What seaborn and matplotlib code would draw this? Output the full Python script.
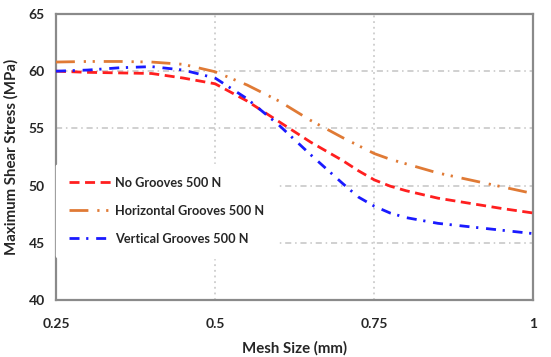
import matplotlib
matplotlib.use("Agg")
import matplotlib.pyplot as plt
import seaborn as sns
import pandas as pd

# Mesh sizes (mm) and maximum shear stress (MPa) per groove configuration
mesh_size = [0.25, 0.30, 0.35, 0.40, 0.45, 0.50, 0.55, 0.60, 0.65, 0.70,
             0.725, 0.75, 0.775, 0.80, 0.85, 0.90, 0.95, 1.00]
no_grooves = [60.0, 59.9, 59.85, 59.8, 59.4, 58.9, 57.4, 55.6, 53.8, 52.2,
              51.3, 50.5, 49.95, 49.55, 48.9, 48.45, 48.0, 47.6]
horizontal_grooves = [60.8, 60.85, 60.85, 60.8, 60.6, 59.95, 58.8, 57.4, 55.7, 54.2,
                      53.5, 52.8, 52.3, 51.9, 51.1, 50.5, 49.9, 49.3]
vertical_grooves = [60.0, 60.1, 60.3, 60.4, 60.1, 59.4, 57.6, 55.3, 52.7, 50.2,
                    49.0, 48.2, 47.6, 47.2, 46.7, 46.4, 46.1, 45.8]

series_names = ["No Grooves 500 N", "Horizontal Grooves 500 N", "Vertical Grooves 500 N"]
x_ticks = [0.25, 0.5, 0.75, 1.0]
x_tick_labels = ["0.25", "0.5", "0.75", "1"]
y_ticks = [40, 45, 50, 55, 60, 65]

sns.set_style("white")
plt.rcParams["font.family"] = ["Lato", "DejaVu Sans"]

fig = plt.figure(figsize=(5.51, 3.57), dpi=100)
ax = fig.add_axes([0.1016, 0.1597, 0.8665, 0.8011])

styles = [
    ("#ff1f1f", (0, (3.6, 2.0))),
    ("#e07a35", (0, (6.8, 3.2, 0.8, 2.4, 0.8, 3.2))),
    ("#1a1aff", (0, (3.6, 2.4, 0.8, 2.8))),
]
for name, values, (color, ls) in zip(series_names,
                                     [no_grooves, horizontal_grooves, vertical_grooves],
                                     styles):
    df = pd.DataFrame({"Mesh Size (mm)": mesh_size, "stress": values})
    sns.lineplot(data=df, x="Mesh Size (mm)", y="stress", ax=ax, color=color,
                 linewidth=2.0, linestyle=ls, label=name, zorder=3)

ax.set_xlim(0.25, 1.0)
ax.set_ylim(40, 65)
ax.set_xticks(x_ticks)
ax.set_xticklabels(x_tick_labels)
ax.set_yticks(y_ticks)

# Gridlines: dash-dot horizontal, dotted vertical
for yv in y_ticks[1:-1]:
    ax.axhline(yv, color="#c4c4c4", linewidth=1.1, linestyle=(0, (4, 2.5, 1, 2.5)), zorder=1)
for xv in x_ticks[1:-1]:
    ax.axvline(xv, color="#c4c4c4", linewidth=1.1, linestyle=(0, (1.2, 2.5)), zorder=1)

for s in ax.spines.values():
    s.set_color("#8a8a8a")
    s.set_linewidth(1.6)

ax.tick_params(axis="both", length=0, labelsize=10, colors="#262626")
ax.tick_params(axis="x", pad=13)
ax.tick_params(axis="y", pad=8)
for lbl in ax.get_xticklabels() + ax.get_yticklabels():
    lbl.set_fontweight("bold")

ax.set_xlabel("Mesh Size (mm)", fontsize=10.8, fontweight="bold", color="#262626", labelpad=8)
ax.set_ylabel("Maximum Shear Stress (MPa)", fontsize=10.8, fontweight="bold", color="#262626", labelpad=7)

leg = ax.legend(loc="upper left", bbox_to_anchor=(0.0, 0.476), frameon=True,
                handlelength=3.4, handletextpad=0.25, labelspacing=1.26,
                borderpad=1.0, borderaxespad=0.0, prop={"weight": "bold", "size": 9.2})
leg.get_frame().set_facecolor("white")
leg.get_frame().set_edgecolor("white")
leg.get_frame().set_alpha(1.0)
leg.set_zorder(5)
for t in leg.get_texts():
    t.set_color("#262626")

fig.savefig("out.png", dpi=100)
